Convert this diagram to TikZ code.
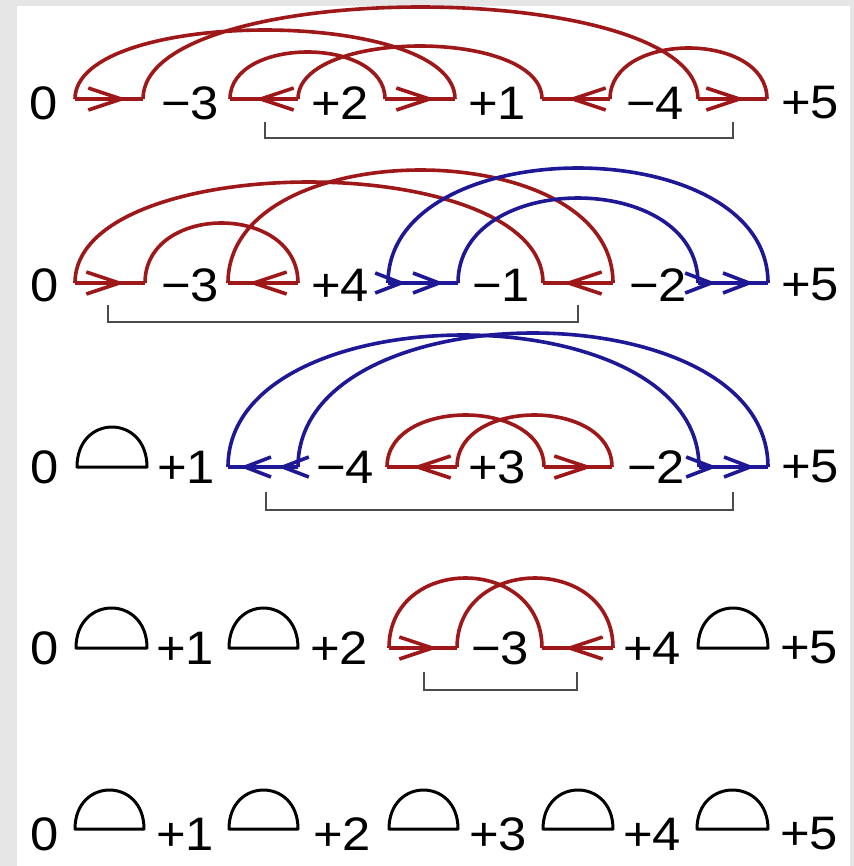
\documentclass[tikz,border=0pt]{standalone}
\usepackage{fontspec}
\setmainfont{Liberation Sans}
\usetikzlibrary{arrows.meta}
\definecolor{arcred}{RGB}{158,24,26}
\definecolor{arcblue}{RGB}{30,24,150}
\definecolor{framegray}{RGB}{230,230,230}
\newcommand{\gedge}[4][]{\draw[#1] (#2) .. controls +(0,{-1.3333*(#4)}) and +(0,{-1.3333*(#4)}) .. (#3);}
\newcommand{\domeat}[3]{\draw[dome] (#1) -- (#2) .. controls +(0,{-1.3333*(#3)}) and +(0,{-1.3333*(#3)}) .. (#1) -- cycle;}
\begin{document}
\begin{tikzpicture}[x=1bp,y=-1bp,
  lab/.style={font=\fontsize{47bp}{56bp}\selectfont, inner sep=0pt, text=black, xscale=1.08},
  rline/.style={draw=arcred, line width=3.6bp, line cap=butt, line join=round},
  bline/.style={draw=arcblue, line width=3.6bp, line cap=butt, line join=round},
  rtip/.style={-{Straight Barb[length=33bp,width=22bp]}},
  btip/.style={-{Straight Barb[length=26bp,width=20bp,sep=5bp]Straight Barb[length=26bp,width=20bp,sep=5bp]}},
  dome/.style={draw=black, line width=3bp, line join=round},
  brack/.style={draw=black!70, line width=1.5bp}]
\path[use as bounding box] (0,0) rectangle (854,866);
\fill[framegray] (0,0) rectangle (854,866);
\fill[white] (17,6) rectangle (850,866);

% ---------- coordinates ----------
\foreach \i/\x in {0/75,1/143,2/230,3/298,4/385,5/455,6/542,7/610,8/698,9/767} \coordinate (a\i) at (\x,99);
\foreach \i/\x in {0/75,1/145,2/228,3/298,4/388,5/458,6/543,7/613,8/698,9/768} \coordinate (b\i) at (\x,283);
\foreach \i/\x in {0/77,1/147,2/228,3/298,4/387,5/457,6/544,7/612,8/699,9/768} \coordinate (c\i) at (\x,467);
\foreach \i/\x in {0/76,1/147,2/229,3/298,4/389,5/457,6/542,7/613,8/698,9/768} \coordinate (d\i) at (\x,648);
\foreach \i/\x in {0/75,1/144,2/229,3/298,4/389,5/458,6/543,7/613,8/697,9/768} \coordinate (e\i) at (\x,829);

\coordinate (at0) at (127,99); \coordinate (at2) at (255,99); \coordinate (at4) at (435,99);
\coordinate (at6) at (567,99); \coordinate (at8) at (745,99);
\coordinate (bt0) at (125,283); \coordinate (bt2) at (248,283); \coordinate (bt4) at (449,283);
\coordinate (bt6) at (563,283); \coordinate (bt8) at (759,283);
\coordinate (ct2) at (235,467); \coordinate (ct4) at (412,467); \coordinate (ct6) at (593,467);
\coordinate (ct8) at (760,467);
\coordinate (dt4) at (438,648); \coordinate (dt6) at (564,648);

% ---------- row 1 ----------
\gedge[rline]{a1}{a8}{92}
\gedge[rline]{a0}{a5}{69}
\gedge[rline]{a3}{a6}{53}
\gedge[rline]{a2}{a4}{47}
\gedge[rline]{a7}{a9}{51}
\draw[rline] (a0) -- (a1); \draw[rline,rtip] (a0) -- (at0);
\draw[rline] (a2) -- (a3); \draw[rline,rtip] (a3) -- (at2);
\draw[rline] (a4) -- (a5); \draw[rline,rtip] (a4) -- (at4);
\draw[rline] (a6) -- (a7); \draw[rline,rtip] (a7) -- (at6);
\draw[rline] (a8) -- (a9); \draw[rline,rtip] (a8) -- (at8);
\coordinate (k1a) at (265,122); \coordinate (k1b) at (265,138);
\coordinate (k1c) at (733,138); \coordinate (k1d) at (733,122);
\draw[brack] (k1a) -- (k1b) -- (k1c) -- (k1d);
\node[lab] (n10) at (44,103) {0};
\node[lab] (n11) at (190,103) {−3};
\node[lab] (n12) at (340,103) {+2};
\node[lab] (n13) at (497,103) {+1};
\node[lab] (n14) at (655,103) {−4};
\node[lab] (n15) at (810,103) {+5};

% ---------- row 2 ----------
\gedge[rline]{b0}{b6}{101}
\gedge[rline]{b2}{b7}{113}
\gedge[rline]{b1}{b3}{60}
\gedge[bline]{b4}{b9}{115}
\gedge[bline]{b5}{b8}{85}
\draw[rline] (b0) -- (b1); \draw[rline,rtip] (b0) -- (bt0);
\draw[rline] (b2) -- (b3); \draw[rline,rtip] (b3) -- (bt2);
\draw[bline] (b4) -- (b5); \draw[bline,btip] (b4) -- (bt4);
\draw[rline] (b6) -- (b7); \draw[rline,rtip] (b7) -- (bt6);
\draw[bline] (b8) -- (b9); \draw[bline,btip] (b8) -- (bt8);
\coordinate (k2a) at (108,305); \coordinate (k2b) at (108,322);
\coordinate (k2c) at (578,322); \coordinate (k2d) at (578,305);
\draw[brack] (k2a) -- (k2b) -- (k2c) -- (k2d);
\node[lab] (n20) at (45,285) {0};
\node[lab] (n21) at (190,285) {−3};
\node[lab] (n22) at (340,285) {+4};
\node[lab] (n23) at (501,285) {−1};
\node[lab] (n24) at (658,285) {−2};
\node[lab] (n25) at (810,285) {+5};

% ---------- row 3 ----------
\domeat{c0}{c1}{40}
\gedge[bline]{c2}{c8}{132}
\gedge[bline]{c3}{c9}{134}
\gedge[rline]{c4}{c6}{52}
\gedge[rline]{c5}{c7}{52}
\draw[bline] (c2) -- (c3); \draw[bline,btip] (c3) -- (ct2);
\draw[rline] (c4) -- (c5); \draw[rline,rtip] (c5) -- (ct4);
\draw[rline] (c6) -- (c7); \draw[rline,rtip] (c6) -- (ct6);
\draw[bline] (c8) -- (c9); \draw[bline,btip] (c8) -- (ct8);
\coordinate (k3a) at (266,492); \coordinate (k3b) at (266,510);
\coordinate (k3c) at (733,510); \coordinate (k3d) at (733,492);
\draw[brack] (k3a) -- (k3b) -- (k3c) -- (k3d);
\node[lab] (n30) at (45,467) {0};
\node[lab] (n31) at (186,467) {+1};
\node[lab] (n32) at (345,467) {−4};
\node[lab] (n33) at (497,467) {+3};
\node[lab] (n34) at (656,467) {−2};
\node[lab] (n35) at (810,467) {+5};

% ---------- row 4 ----------
\domeat{d0}{d1}{40}
\domeat{d2}{d3}{40}
\domeat{d8}{d9}{40}
\gedge[rline]{d4}{d6}{70}
\gedge[rline]{d5}{d7}{70}
\draw[rline] (d4) -- (d5); \draw[rline,rtip] (d4) -- (dt4);
\draw[rline] (d6) -- (d7); \draw[rline,rtip] (d7) -- (dt6);
\coordinate (k4a) at (424,672); \coordinate (k4b) at (424,690);
\coordinate (k4c) at (577,690); \coordinate (k4d) at (577,672);
\draw[brack] (k4a) -- (k4b) -- (k4c) -- (k4d);
\node[lab] (n40) at (45,648) {0};
\node[lab] (n41) at (185,648) {+1};
\node[lab] (n42) at (339,648) {+2};
\node[lab] (n43) at (500,648) {−3};
\node[lab] (n44) at (652,648) {+4};
\node[lab] (n45) at (809,648) {+5};

% ---------- row 5 ----------
\domeat{e0}{e1}{39}
\domeat{e2}{e3}{39}
\domeat{e4}{e5}{39}
\domeat{e6}{e7}{39}
\domeat{e8}{e9}{39}
\node[lab] (n50) at (45,834) {0};
\node[lab] (n51) at (185,834) {+1};
\node[lab] (n52) at (342,834) {+2};
\node[lab] (n53) at (498,834) {+3};
\node[lab] (n54) at (652,834) {+4};
\node[lab] (n55) at (809,834) {+5};
\end{tikzpicture}
\end{document}
